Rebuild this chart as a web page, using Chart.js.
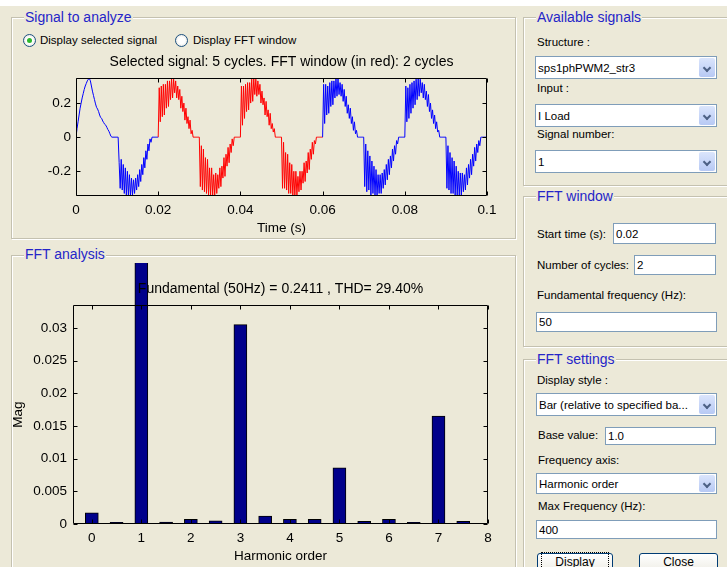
<!DOCTYPE html>
<html>
<head>
<meta charset="utf-8">
<script src="https://cdn.jsdelivr.net/npm/chart.js@4.4.1/dist/chart.umd.min.js"></script>
<style>
  body { margin: 0; }
  #gui { position: relative; width: 727px; height: 567px; background: #ece9d8; overflow: hidden;
         font-family: 'Liberation Sans', Arial, sans-serif; font-size: 11.5px; color: #000; }
  #strip { position: absolute; left: 0; top: 0; width: 727px; height: 6px; background: #fff; }
  .panel { position: absolute; border: 1px solid #c4c1b0; box-shadow: 1px 1px 0 #fff, inset 1px 1px 0 #fff; }
  .ptitle { position: absolute; color: #2525c8; font-size: 14px; line-height: 16px; background: #ece9d8;
            padding: 0 1px; white-space: nowrap; }
  .lbl { position: absolute; line-height: 14px; white-space: nowrap; }
  .field { position: absolute; background: #fff; border: 1px solid #7f9db9; box-sizing: border-box;
           padding-left: 2px; white-space: nowrap; overflow: hidden; display: flex; align-items: center; }
  .arrow { position: absolute; right: 1px; top: 1px; bottom: 1px; width: 16px; border-radius: 2px;
           background: linear-gradient(#dbe5fc, #b7c9f4); }
  .arrow:after { content: ''; position: absolute; left: 5px; top: 35%; width: 4px; height: 4px;
                 border-right: 2px solid #4d6185; border-bottom: 2px solid #4d6185; transform: rotate(45deg); }
  .radio { position: absolute; width: 11px; height: 11px; border: 1px solid #1c5180; border-radius: 50%;
           background: radial-gradient(#fff 40%, #dcdcd4); }
  .radio.on:after { content: ''; position: absolute; left: 3px; top: 3px; width: 5px; height: 5px;
                    border-radius: 50%; background: #2db82d; }
  .btn { position: absolute; border: 1px solid #003c74; border-radius: 3px; box-sizing: border-box;
         background: linear-gradient(#fff, #f0efe8 80%, #d8d3c6); text-align: center; font-size: 12px; line-height: 17px; }
  .btn span { display: inline-block; padding: 0 12px; }
  .btn.focus span { outline: 1px dotted #000; outline-offset: 1px; }
  canvas { position: absolute; }
</style>
</head>
<body>
<div id="gui">
  <div id="strip"></div>

  <!-- left side -->
  <div class="panel" style="left:11px; top:17px; width:503px; height:220px;"></div>
  <div class="ptitle" style="left:24px; top:9px;">Signal to analyze</div>
  <div class="radio on" style="left:23px; top:34px;"></div>
  <div class="lbl" style="left:40px; top:33px;">Display selected signal</div>
  <div class="radio" style="left:175px; top:34px;"></div>
  <div class="lbl" style="left:193px; top:33px;">Display FFT window</div>
  <canvas id="signalChart" width="500" height="186" style="left:12px; top:50px;"></canvas>

  <div class="panel" style="left:11px; top:255px; width:503px; height:330px;"></div>
  <div class="ptitle" style="left:24px; top:246px;">FFT analysis</div>
  <canvas id="fftChart" width="508" height="304" style="left:4px; top:263px;"></canvas>

  <!-- right side -->
  <div class="panel" style="left:523px; top:17px; width:220px; height:167px;"></div>
  <div class="ptitle" style="left:536px; top:9px;">Available signals</div>
  <div class="lbl" style="left:537px; top:35px;">Structure :</div>
  <div class="field" style="left:535px; top:56px; width:182px; height:23px;">sps1phPWM2_str3<div class="arrow"></div></div>
  <div class="lbl" style="left:537px; top:81px;">Input :</div>
  <div class="field" style="left:535px; top:104px; width:182px; height:23px;">I Load<div class="arrow"></div></div>
  <div class="lbl" style="left:537px; top:127px;">Signal number:</div>
  <div class="field" style="left:535px; top:150px; width:182px; height:23px;">1<div class="arrow"></div></div>

  <div class="panel" style="left:523px; top:196px; width:220px; height:149px;"></div>
  <div class="ptitle" style="left:536px; top:188px;">FFT window</div>
  <div class="lbl" style="left:537px; top:227px;">Start time (s):</div>
  <div class="field" style="left:613px; top:223px; width:103px; height:21px;">0.02</div>
  <div class="lbl" style="left:537px; top:258px;">Number of cycles:</div>
  <div class="field" style="left:634px; top:255px; width:82px; height:20px;">2</div>
  <div class="lbl" style="left:537px; top:288px;">Fundamental frequency (Hz):</div>
  <div class="field" style="left:536px; top:312px; width:181px; height:20px;">50</div>

  <div class="panel" style="left:523px; top:359px; width:220px; height:230px;"></div>
  <div class="ptitle" style="left:536px; top:351px;">FFT settings</div>
  <div class="lbl" style="left:537px; top:373px;">Display style :</div>
  <div class="field" style="left:536px; top:393px; width:181px; height:23px;">Bar (relative to specified ba...<div class="arrow"></div></div>
  <div class="lbl" style="left:538px; top:428px;">Base value:</div>
  <div class="field" style="left:605px; top:427px; width:111px; height:18px;">1.0</div>
  <div class="lbl" style="left:538px; top:453px;">Frequency axis:</div>
  <div class="field" style="left:536px; top:473px; width:181px; height:21px;">Harmonic order<div class="arrow"></div></div>
  <div class="lbl" style="left:538px; top:499px;">Max Frequency (Hz):</div>
  <div class="field" style="left:536px; top:520px; width:181px; height:19px;">400</div>
  <div class="btn focus" style="left:537px; top:553px; width:76px; height:22px;"><span>Display</span></div>
  <div class="btn" style="left:639px; top:553px; width:79px; height:22px;"><span>Close</span></div>
</div>

<script>
// selected signal: I Load, one sample every signalStep seconds (0 .. 0.1 s)
const signalStep = 0.00025;
const signalValues = [
  // 0 .. 0.01
  0, 0.05, 0.09, 0.13, 0.17, 0.20, 0.23, 0.255, 0.28, 0.30, 0.315, 0.33, 0.34, 0.345, 0.33, 0.30, 0.27, 0.245, 0.22, 0.195,
  0.175, 0.165, 0.15, 0.13, 0.115, 0.11, 0.095, 0.085, 0.075, 0.07, 0.058, 0.045, 0.035, 0.02, 0.005, 0, 0, 0, 0, 0,
  // 0.01 .. 0.02
  0, 0, -0.15, -0.30, -0.13, -0.31, -0.16, -0.33, -0.18, -0.34, -0.20, -0.345, -0.22, -0.345, -0.24, -0.34, -0.25, -0.33, -0.24, -0.31,
  -0.22, -0.29, -0.19, -0.26, -0.16, -0.22, -0.12, -0.18, -0.08, -0.13, -0.04, -0.08, -0.01, -0.03, 0, 0, 0, 0, 0, 0,
  // 0.02 .. 0.03
  0, 0.29, 0.09, 0.30, 0.12, 0.31, 0.13, 0.31, 0.17, 0.33, 0.18, 0.33, 0.22, 0.345, 0.23, 0.34, 0.26, 0.33, 0.23, 0.30,
  0.22, 0.28, 0.17, 0.24, 0.15, 0.20, 0.10, 0.17, 0.08, 0.12, 0.05, 0.10, 0.02, 0.04, 0, 0, 0, 0, 0, 0,
  // 0.03 .. 0.04
  0, -0.29, -0.05, -0.31, -0.07, -0.32, -0.12, -0.33, -0.13, -0.34, -0.18, -0.345, -0.18, -0.34, -0.22, -0.345, -0.21, -0.33, -0.22, -0.30,
  -0.18, -0.29, -0.17, -0.24, -0.12, -0.23, -0.10, -0.17, -0.06, -0.15, -0.04, -0.09, -0.01, -0.05, 0, 0, 0, 0, 0, 0,
  // 0.04 .. 0.05
  0, 0.30, 0.07, 0.30, 0.11, 0.31, 0.15, 0.32, 0.16, 0.32, 0.20, 0.34, 0.21, 0.345, 0.25, 0.34, 0.24, 0.33, 0.25, 0.31,
  0.20, 0.27, 0.19, 0.23, 0.13, 0.21, 0.12, 0.16, 0.07, 0.14, 0.05, 0.08, 0.03, 0.05, 0, 0, 0, 0, 0, 0,
  // 0.05 .. 0.06
  0, -0.30, -0.03, -0.30, -0.09, -0.31, -0.10, -0.33, -0.15, -0.33, -0.16, -0.345, -0.20, -0.345, -0.20, -0.34, -0.23, -0.32, -0.20, -0.31,
  -0.20, -0.27, -0.15, -0.26, -0.14, -0.21, -0.09, -0.19, -0.07, -0.13, -0.03, -0.10, -0.02, -0.04, 0, 0, 0, 0, 0, 0,
  // 0.06 .. 0.07
  0, 0.31, 0.08, 0.31, 0.13, 0.30, 0.14, 0.32, 0.18, 0.33, 0.19, 0.33, 0.23, 0.345, 0.24, 0.345, 0.25, 0.32, 0.24, 0.31,
  0.21, 0.28, 0.18, 0.24, 0.14, 0.19, 0.11, 0.17, 0.08, 0.12, 0.04, 0.09, 0.02, 0.04, 0, 0, 0, 0, 0, 0,
  // 0.07 .. 0.08
  0, -0.29, -0.04, -0.32, -0.08, -0.31, -0.11, -0.34, -0.14, -0.33, -0.17, -0.345, -0.19, -0.345, -0.22, -0.33, -0.22, -0.33, -0.21, -0.30,
  -0.19, -0.28, -0.16, -0.25, -0.13, -0.22, -0.11, -0.18, -0.07, -0.14, -0.05, -0.10, -0.02, -0.04, 0, 0, 0, 0, 0, 0,
  // 0.08 .. 0.09
  0, 0.30, 0.09, 0.29, 0.11, 0.31, 0.14, 0.32, 0.17, 0.33, 0.19, 0.34, 0.22, 0.345, 0.24, 0.34, 0.26, 0.32, 0.23, 0.31,
  0.22, 0.27, 0.18, 0.25, 0.15, 0.20, 0.11, 0.16, 0.08, 0.13, 0.05, 0.09, 0.03, 0.04, 0, 0, 0, 0, 0, 0,
  // 0.09 .. 0.1
  0, -0.30, -0.05, -0.31, -0.09, -0.33, -0.12, -0.33, -0.14, -0.345, -0.17, -0.34, -0.20, -0.345, -0.21, -0.34, -0.21, -0.32, -0.22, -0.31,
  -0.18, -0.28, -0.16, -0.24, -0.13, -0.22, -0.10, -0.17, -0.06, -0.14, -0.04, -0.09, -0.02, -0.05, 0, 0, 0, 0, 0, 0,
  0
];
const timeTicks = [0, 0.02, 0.04, 0.06, 0.08, 0.1];
const signalTicks = [-0.2, 0, 0.2];

// FFT window
const fftStart = 0.02;
const fftCycles = 2;
const fundFreq = 50;
const totalCycles = 5;

// FFT result
const harmonicOrders = [0, 0.5, 1, 1.5, 2, 2.5, 3, 3.5, 4, 4.5, 5, 5.5, 6, 6.5, 7, 7.5];
const harmonicMags = [0.0017, 0.00025, 0.2411, 0.0003, 0.0007, 0.0005, 0.0305, 0.0012,
                      0.0007, 0.0007, 0.0086, 0.0004, 0.0007, 0.00025, 0.0165, 0.0004];
const thdPercent = 29.40;
const orderTicks = [0, 1, 2, 3, 4, 5, 6, 7, 8];
const magTicks = [0, 0.005, 0.01, 0.015, 0.02, 0.025, 0.03];

Chart.defaults.font.family = "'Liberation Sans', Arial, sans-serif";
Chart.defaults.font.size = 13.5;
Chart.defaults.color = '#000';

// matlab style axes: black box, ticks pointing inwards, optional title over the bars
const matlabBox = {
    id: 'matlabBox',
    afterDatasetsDraw(chart, args, opts) {
        const { ctx, chartArea: a, scales: { x, y } } = chart;
        const len = 4;
        const l = Math.round(a.left) + 0.5, r = Math.round(a.right) - 0.5;
        const t = Math.round(a.top) + 0.5, b = Math.round(a.bottom) - 0.5;
        ctx.save();
        ctx.strokeStyle = '#000';
        ctx.lineWidth = 1;
        ctx.beginPath();
        ctx.rect(l, t, r - l, b - t);
        x.ticks.forEach(tk => {
            const px = Math.round(x.getPixelForValue(tk.value)) + 0.5;
            ctx.moveTo(px, b); ctx.lineTo(px, b - len);
            ctx.moveTo(px, t); ctx.lineTo(px, t + len);
        });
        y.ticks.forEach(tk => {
            const py = Math.round(y.getPixelForValue(tk.value)) + 0.5;
            ctx.moveTo(l, py); ctx.lineTo(l + len, py);
            ctx.moveTo(r, py); ctx.lineTo(r - len, py);
        });
        ctx.stroke();
        if (opts.title) {
            ctx.fillStyle = '#000';
            ctx.font = "14px 'Liberation Sans', Arial, sans-serif";
            ctx.textAlign = 'center';
            ctx.textBaseline = 'middle';
            ctx.fillText(opts.title, (a.left + a.right) / 2, a.top - opts.gap);
        }
        ctx.restore();
    }
};

function axisOpts(ticks, extra) {
    return Object.assign({
        type: 'linear',
        grid: { display: false, drawTicks: false },
        border: { display: false },
        afterBuildTicks: s => { s.ticks = ticks.map(v => ({ value: v })); },
        ticks: { callback: v => String(v), maxRotation: 0, autoSkip: false }
    }, extra);
}

// top plot: selected signal, FFT window in red
const fftEnd = fftStart + fftCycles / fundFreq;
const signalPoints = signalValues.map((v, i) => ({ x: i * signalStep, y: v }));
const inWindow = t => t >= fftStart - 1e-9 && t < fftEnd - 1e-9;

new Chart(document.getElementById('signalChart'), {
    type: 'line',
    data: {
        datasets: [{
            data: signalPoints,
            borderColor: '#0000ff',
            borderWidth: 1,
            pointRadius: 0,
            tension: 0,
            segment: { borderColor: c => inWindow(c.p0.parsed.x) ? '#ff0000' : '#0000ff' }
        }]
    },
    options: {
        responsive: false,
        animation: false,
        layout: { padding: { left: 0, right: 25, top: 0, bottom: 0 } },
        plugins: {
            legend: { display: false },
            tooltip: { enabled: false },
            title: {
                display: true,
                fullSize: false,
                text: `Selected signal: ${totalCycles} cycles. FFT window (in red): ${fftCycles} cycles`,
                font: { size: 14, weight: 'normal', lineHeight: 1.2 },
                color: '#000',
                padding: { top: 4, bottom: 7.2 }
            },
            matlabBox: {}
        },
        scales: {
            x: axisOpts(timeTicks, {
                min: 0, max: 0.1,
                ticks: { callback: v => String(v), maxRotation: 0, autoSkip: false, padding: 6 },
                title: { display: true, text: 'Time (s)', padding: { top: 0, bottom: 0 } },
                afterFit: s => { s.height = 40; }
            }),
            y: axisOpts(signalTicks, {
                min: -0.345, max: 0.347,
                ticks: { callback: v => String(v), padding: 5 },
                afterFit: s => { s.width = 64; }
            })
        }
    },
    plugins: [matlabBox]
});

// bottom plot: harmonic spectrum
const fundMag = harmonicMags[harmonicOrders.indexOf(1)];

new Chart(document.getElementById('fftChart'), {
    type: 'bar',
    data: {
        datasets: [{
            data: harmonicOrders.map((h, i) => ({ x: h, y: harmonicMags[i] })),
            backgroundColor: '#00008b',
            borderColor: '#000',
            borderWidth: 1,
            barThickness: 13,
            clip: false
        }]
    },
    options: {
        responsive: false,
        animation: false,
        layout: { padding: { left: 0, right: 24, top: 42, bottom: 0 } },
        plugins: {
            legend: { display: false },
            tooltip: { enabled: false },
            matlabBox: {
                title: `Fundamental (${fundFreq}Hz) = ${fundMag.toFixed(4)} , THD= ${thdPercent.toFixed(2)}%`,
                gap: 16
            }
        },
        scales: {
            x: axisOpts(orderTicks, {
                min: -0.38, max: 8, offset: false,
                ticks: { callback: v => String(v), maxRotation: 0, autoSkip: false, padding: 6 },
                title: { display: true, text: 'Harmonic order', padding: { top: 0, bottom: 3 } },
                afterFit: s => { s.height = 43; }
            }),
            y: axisOpts(magTicks, {
                min: 0, max: 0.0335,
                ticks: { callback: v => String(v), padding: 6 },
                title: { display: true, text: 'Mag', padding: { top: 6, bottom: 0 } },
                afterFit: s => { s.width = 69; }
            })
        }
    },
    plugins: [matlabBox]
});
</script>
</body>
</html>
